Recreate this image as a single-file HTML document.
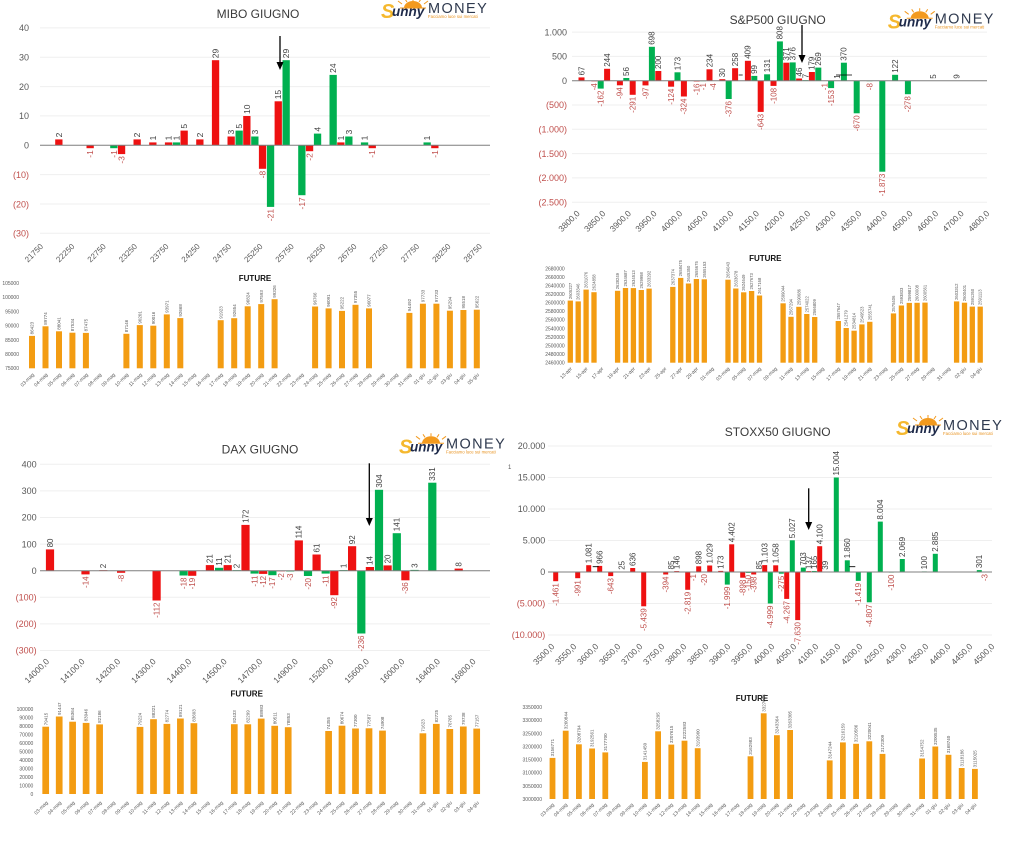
<!DOCTYPE html>
<html><head><meta charset="utf-8"><style>
html,body{margin:0;padding:0;background:#fff;}
svg{display:block;font-family:"Liberation Sans",Arial,sans-serif;}
.r{fill:#ee1111}.g{fill:#00b050}.o{fill:#f39c12}
.t{font-size:12px;fill:#3a3a3a;text-anchor:middle}
.ax{font-size:9px;fill:#595959;text-anchor:end}
.axn{font-size:9px;fill:#c0504d;text-anchor:end}
.xl{font-size:8.5px;fill:#595959;text-anchor:end}
.dp{font-size:8px;fill:#404040}
.dn{font-size:8px;fill:#c0504d;text-anchor:end}
.ft{font-size:8px;font-weight:bold;fill:#111;text-anchor:middle}
.fy{font-size:5px;fill:#595959;text-anchor:end}
.fx{font-size:5px;fill:#595959;text-anchor:end}
.fd{font-size:4.5px;fill:#595959}
.gl{stroke:#efefef;stroke-width:1}
.zl{stroke:#7f7f7f;stroke-width:1}
</style></head><body>
<svg width="1024" height="844" viewBox="0 0 1024 844" xmlns="http://www.w3.org/2000/svg">
<rect width="1024" height="844" fill="#fff"/>
<defs>
<g id="logo">
<path d="M22 -5 A9 7 0 0 1 40 -5 Z" fill="#f39a1e"/>
<path d="M18 -5H44M20 -9L16 -12M31 -12V-15M42 -9L46 -12M25 -11L23 -14M37 -11L39 -14" stroke="#f39a1e" stroke-width="1"/>
<text x="-1" y="5" font-size="20" font-weight="bold" font-style="italic" fill="#f5b82e">S</text>
<text x="10" y="3" font-size="13.5" font-weight="bold" font-style="italic" fill="#1e2a4a">unny</text>
<text x="46" y="0" font-size="14.5" fill="#2f3a4f" letter-spacing="1.4">MONEY</text>
<text x="46" y="5" font-size="4.3" fill="#e8921e">Facciamo luce sui mercati</text>
</g>
</defs>

<!-- ================= MIBO ================= -->
<use href="#logo" x="382" y="13"/>
<text class="t" x="258" y="18">MIBO GIUGNO</text>
<g class="gl"><line x1="40" x2="490" y1="27.9" y2="27.9"/><line x1="40" x2="490" y1="57.3" y2="57.3"/><line x1="40" x2="490" y1="86.6" y2="86.6"/><line x1="40" x2="490" y1="115.9" y2="115.9"/><line x1="40" x2="490" y1="174.6" y2="174.6"/><line x1="40" x2="490" y1="204" y2="204"/><line x1="40" x2="490" y1="233.3" y2="233.3"/></g>
<text class="ax" x="29" y="31">40</text><text class="ax" x="29" y="60.5">30</text><text class="ax" x="29" y="89.9">20</text><text class="ax" x="29" y="119.2">10</text><text class="ax" x="29" y="148.5">0</text>
<text class="axn" x="29" y="177.9">(10)</text><text class="axn" x="29" y="207.3">(20)</text><text class="axn" x="29" y="236.6">(30)</text>
<rect class="r" x="55.2" y="139.4" width="7.3" height="5.9"/>
<rect class="r" x="86.5" y="145.3" width="7.3" height="2.9"/>
<rect class="g" x="110.2" y="145.3" width="7.3" height="2.9"/>
<rect class="r" x="117.9" y="145.3" width="7.3" height="8.8"/>
<rect class="r" x="133.5" y="139.4" width="7.3" height="5.9"/>
<rect class="r" x="149.2" y="142.4" width="7.3" height="2.9"/>
<rect class="r" x="164.9" y="142.4" width="7.3" height="2.9"/>
<rect class="g" x="172.8" y="142.4" width="7.3" height="2.9"/>
<rect class="r" x="180.5" y="130.6" width="7.3" height="14.7"/>
<rect class="r" x="196.2" y="139.4" width="7.3" height="5.9"/>
<rect class="r" x="211.9" y="60.2" width="7.3" height="85.1"/>
<rect class="r" x="227.5" y="136.5" width="7.3" height="8.8"/>
<rect class="g" x="235.5" y="130.6" width="7.3" height="14.7"/>
<rect class="r" x="243.2" y="116" width="7.3" height="29.3"/>
<rect class="g" x="251.2" y="136.5" width="7.3" height="8.8"/>
<rect class="r" x="258.9" y="145.3" width="7.3" height="23.5"/>
<rect class="g" x="266.9" y="145.3" width="7.3" height="61.6"/>
<rect class="r" x="274.6" y="101.3" width="7.3" height="44"/>
<rect class="g" x="282.5" y="60.2" width="7.3" height="85.1"/>
<rect class="g" x="298.2" y="145.3" width="7.3" height="49.9"/>
<rect class="r" x="305.9" y="145.3" width="7.3" height="5.9"/>
<rect class="g" x="313.9" y="133.6" width="7.3" height="11.7"/>
<rect class="g" x="329.5" y="74.9" width="7.3" height="70.4"/>
<rect class="r" x="337.2" y="142.4" width="7.3" height="2.9"/>
<rect class="g" x="345.2" y="136.5" width="7.3" height="8.8"/>
<rect class="g" x="360.9" y="142.4" width="7.3" height="2.9"/>
<rect class="r" x="368.6" y="145.3" width="7.3" height="2.9"/>
<rect class="g" x="423.5" y="142.4" width="7.3" height="2.9"/>
<rect class="r" x="431.2" y="145.3" width="7.3" height="2.9"/>
<line class="zl" x1="40" x2="490" y1="145.3" y2="145.3"/>
<g class="dp" style="font-size:8.5px">
<text transform="translate(61.8 137.4) rotate(-90)">2</text>
<text transform="translate(140.1 137.4) rotate(-90)">2</text>
<text transform="translate(155.8 140.4) rotate(-90)">1</text>
<text transform="translate(171.5 140.4) rotate(-90)">1</text>
<text transform="translate(179.4 140.4) rotate(-90)">1</text>
<text transform="translate(187.1 128.6) rotate(-90)">5</text>
<text transform="translate(202.8 137.4) rotate(-90)">2</text>
<text transform="translate(218.5 58.2) rotate(-90)">29</text>
<text transform="translate(234.1 134.5) rotate(-90)">3</text>
<text transform="translate(242.1 128.6) rotate(-90)">5</text>
<text transform="translate(249.8 114) rotate(-90)">10</text>
<text transform="translate(257.8 134.5) rotate(-90)">3</text>
<text transform="translate(281.2 99.3) rotate(-90)">15</text>
<text transform="translate(289.1 58.2) rotate(-90)">29</text>
<text transform="translate(320.5 131.6) rotate(-90)">4</text>
<text transform="translate(336.1 72.9) rotate(-90)">24</text>
<text transform="translate(343.8 140.4) rotate(-90)">1</text>
<text transform="translate(351.8 134.5) rotate(-90)">3</text>
<text transform="translate(367.5 140.4) rotate(-90)">1</text>
<text transform="translate(430.1 140.4) rotate(-90)">1</text>
</g>
<g class="dn" style="font-size:8.5px">
<text transform="translate(93.1 150.2) rotate(-90)">-1</text>
<text transform="translate(116.8 150.2) rotate(-90)">-1</text>
<text transform="translate(124.5 156.1) rotate(-90)">-3</text>
<text transform="translate(265.5 170.8) rotate(-90)">-8</text>
<text transform="translate(273.5 208.9) rotate(-90)">-21</text>
<text transform="translate(304.8 197.2) rotate(-90)">-17</text>
<text transform="translate(312.5 153.2) rotate(-90)">-2</text>
<text transform="translate(375.2 150.2) rotate(-90)">-1</text>
<text transform="translate(437.8 150.2) rotate(-90)">-1</text>
</g>
<g class="xl" style="font-size:8px">
<text transform="translate(43.7 247) rotate(-45)">21750</text>
<text transform="translate(75 247) rotate(-45)">22250</text>
<text transform="translate(106.4 247) rotate(-45)">22750</text>
<text transform="translate(137.7 247) rotate(-45)">23250</text>
<text transform="translate(169.1 247) rotate(-45)">23750</text>
<text transform="translate(200.4 247) rotate(-45)">24250</text>
<text transform="translate(231.7 247) rotate(-45)">24750</text>
<text transform="translate(263.1 247) rotate(-45)">25250</text>
<text transform="translate(294.4 247) rotate(-45)">25750</text>
<text transform="translate(325.8 247) rotate(-45)">26250</text>
<text transform="translate(357.1 247) rotate(-45)">26750</text>
<text transform="translate(388.5 247) rotate(-45)">27250</text>
<text transform="translate(419.8 247) rotate(-45)">27750</text>
<text transform="translate(451.2 247) rotate(-45)">28250</text>
<text transform="translate(482.5 247) rotate(-45)">28750</text>
</g>
<path d="M280 36V64" stroke="#000" stroke-width="1.3"/><path d="M276.5 62L283.5 62L280 70Z" fill="#000"/>

<!-- MIBO FUTURE -->
<text class="ft" x="255" y="281">FUTURE</text>
<g class="fy"><text x="19" y="285">105000</text><text x="19" y="299.2">100000</text><text x="19" y="313.4">95000</text><text x="19" y="327.6">90000</text><text x="19" y="341.8">85000</text><text x="19" y="356">80000</text><text x="19" y="370.2">75000</text></g>
<g class="o">
<rect x="29" y="335.9" width="6" height="32.4"/><rect x="42.5" y="326.3" width="6" height="42"/><rect x="56" y="331.3" width="6" height="37"/><rect x="69.4" y="332.7" width="6" height="35.6"/><rect x="82.9" y="332.9" width="6" height="35.4"/>
<rect x="123.4" y="333.8" width="6" height="34.5"/><rect x="136.8" y="325.1" width="6" height="43.2"/><rect x="150.3" y="325.7" width="6" height="42.6"/><rect x="163.8" y="314.4" width="6" height="53.9"/><rect x="177.3" y="318.1" width="6" height="50.2"/>
<rect x="217.7" y="320.2" width="6" height="48.1"/><rect x="231.2" y="318.2" width="6" height="50.1"/><rect x="244.7" y="306.3" width="6" height="62"/><rect x="258.2" y="304.1" width="6" height="64.2"/><rect x="271.6" y="299.2" width="6" height="69.1"/>
<rect x="312.1" y="306.5" width="6" height="61.8"/><rect x="325.6" y="308.4" width="6" height="59.9"/><rect x="339" y="310.9" width="6" height="57.4"/><rect x="352.5" y="304.8" width="6" height="63.5"/><rect x="366" y="308.4" width="6" height="59.9"/>
<rect x="406.4" y="312.9" width="6" height="55.4"/><rect x="419.9" y="303.7" width="6" height="64.6"/><rect x="433.4" y="303.7" width="6" height="64.6"/><rect x="446.9" y="310.7" width="6" height="57.6"/><rect x="460.4" y="310" width="6" height="58.3"/><rect x="473.8" y="309.7" width="6" height="58.6"/>
</g>
<g class="fd">
<text transform="translate(33.6 334.4) rotate(-90)">86423</text><text transform="translate(47.1 324.8) rotate(-90)">89774</text><text transform="translate(60.6 329.8) rotate(-90)">88041</text><text transform="translate(74 331.2) rotate(-90)">87534</text><text transform="translate(87.5 331.4) rotate(-90)">87475</text>
<text transform="translate(128 332.3) rotate(-90)">87146</text><text transform="translate(141.4 323.6) rotate(-90)">90201</text><text transform="translate(154.9 324.2) rotate(-90)">90016</text><text transform="translate(168.4 312.9) rotate(-90)">93971</text><text transform="translate(181.9 316.6) rotate(-90)">92668</text>
<text transform="translate(222.3 318.7) rotate(-90)">91923</text><text transform="translate(235.8 316.7) rotate(-90)">92654</text><text transform="translate(249.3 304.8) rotate(-90)">96824</text><text transform="translate(262.8 302.6) rotate(-90)">97593</text><text transform="translate(276.2 297.7) rotate(-90)">99326</text>
<text transform="translate(316.7 305) rotate(-90)">96766</text><text transform="translate(330.2 306.9) rotate(-90)">96091</text><text transform="translate(343.6 309.4) rotate(-90)">95222</text><text transform="translate(357.1 303.3) rotate(-90)">97355</text><text transform="translate(370.6 306.9) rotate(-90)">96077</text>
<text transform="translate(411 311.4) rotate(-90)">94492</text><text transform="translate(424.5 302.2) rotate(-90)">97733</text><text transform="translate(438 302.2) rotate(-90)">97733</text><text transform="translate(451.5 309.2) rotate(-90)">95294</text><text transform="translate(465 308.5) rotate(-90)">95518</text><text transform="translate(478.4 308.2) rotate(-90)">95622</text>
</g>
<g class="fx">
<text transform="translate(34.5 375) rotate(-45)">03-mag</text><text transform="translate(48 375) rotate(-45)">04-mag</text><text transform="translate(61.5 375) rotate(-45)">05-mag</text><text transform="translate(74.9 375) rotate(-45)">06-mag</text><text transform="translate(88.4 375) rotate(-45)">07-mag</text><text transform="translate(101.9 375) rotate(-45)">08-mag</text><text transform="translate(115.4 375) rotate(-45)">09-mag</text><text transform="translate(128.9 375) rotate(-45)">10-mag</text><text transform="translate(142.3 375) rotate(-45)">11-mag</text><text transform="translate(155.8 375) rotate(-45)">12-mag</text><text transform="translate(169.3 375) rotate(-45)">13-mag</text><text transform="translate(182.8 375) rotate(-45)">14-mag</text><text transform="translate(196.3 375) rotate(-45)">15-mag</text><text transform="translate(209.7 375) rotate(-45)">16-mag</text><text transform="translate(223.2 375) rotate(-45)">17-mag</text><text transform="translate(236.7 375) rotate(-45)">18-mag</text><text transform="translate(250.2 375) rotate(-45)">19-mag</text><text transform="translate(263.7 375) rotate(-45)">20-mag</text><text transform="translate(277.1 375) rotate(-45)">21-mag</text><text transform="translate(290.6 375) rotate(-45)">22-mag</text><text transform="translate(304.1 375) rotate(-45)">23-mag</text><text transform="translate(317.6 375) rotate(-45)">24-mag</text><text transform="translate(331.1 375) rotate(-45)">25-mag</text><text transform="translate(344.5 375) rotate(-45)">26-mag</text><text transform="translate(358 375) rotate(-45)">27-mag</text><text transform="translate(371.5 375) rotate(-45)">28-mag</text><text transform="translate(385 375) rotate(-45)">29-mag</text><text transform="translate(398.5 375) rotate(-45)">30-mag</text><text transform="translate(411.9 375) rotate(-45)">31-mag</text><text transform="translate(425.4 375) rotate(-45)">01-giu</text><text transform="translate(438.9 375) rotate(-45)">02-giu</text><text transform="translate(452.4 375) rotate(-45)">03-giu</text><text transform="translate(465.9 375) rotate(-45)">04-giu</text><text transform="translate(479.3 375) rotate(-45)">05-giu</text>
</g>

<!-- ================= S&P500 ================= -->
<use href="#logo" x="888.7" y="23.3"/>
<text class="t" x="777.7" y="24">S&amp;P500 GIUGNO</text>
<g class="gl"><line x1="572" x2="987" y1="32.1" y2="32.1"/><line x1="572" x2="987" y1="56.4" y2="56.4"/><line x1="572" x2="987" y1="105" y2="105"/><line x1="572" x2="987" y1="129.3" y2="129.3"/><line x1="572" x2="987" y1="153.6" y2="153.6"/><line x1="572" x2="987" y1="177.9" y2="177.9"/><line x1="572" x2="987" y1="202.2" y2="202.2"/></g>
<text class="ax" x="567" y="35.3">1.000</text><text class="ax" x="567" y="59.6">500</text><text class="ax" x="567" y="83.9">0</text>
<text class="axn" x="567" y="108.2">(500)</text><text class="axn" x="567" y="132.5">(1.000)</text><text class="axn" x="567" y="156.8">(1.500)</text><text class="axn" x="567" y="181.1">(2.000)</text><text class="axn" x="567" y="205.4">(2.500)</text>
<rect class="r" x="578.5" y="77.4" width="6" height="3.3"/>
<rect class="r" x="591.3" y="80.7" width="6" height="0.6"/>
<rect class="g" x="597.7" y="80.7" width="6" height="7.9"/>
<rect class="r" x="604.1" y="68.8" width="6" height="11.9"/>
<rect class="r" x="616.9" y="80.7" width="6" height="4.6"/>
<rect class="g" x="623.3" y="78" width="6" height="2.7"/>
<rect class="r" x="629.7" y="80.7" width="6" height="14.1"/>
<rect class="r" x="642.5" y="80.7" width="6" height="4.7"/>
<rect class="g" x="648.9" y="46.8" width="6" height="33.9"/>
<rect class="r" x="655.3" y="71" width="6" height="9.7"/>
<rect class="r" x="668.1" y="80.7" width="6" height="6"/>
<rect class="g" x="674.5" y="72.3" width="6" height="8.4"/>
<rect class="r" x="680.9" y="80.7" width="6" height="15.8"/>
<rect class="r" x="693.7" y="80.7" width="6" height="0.8"/>
<rect class="g" x="700.1" y="80.7" width="6" height="0.5"/>
<rect class="r" x="706.5" y="69.3" width="6" height="11.4"/>
<rect class="r" x="719.3" y="79.2" width="6" height="1.5"/>
<rect class="g" x="725.7" y="80.7" width="6" height="18.3"/>
<rect class="r" x="732.1" y="68.2" width="6" height="12.5"/>
<rect class="r" x="744.9" y="60.8" width="6" height="19.9"/>
<rect class="g" x="751.3" y="75.9" width="6" height="4.8"/>
<rect class="r" x="757.7" y="80.7" width="6" height="31.2"/>
<rect class="g" x="764.1" y="74.3" width="6" height="6.4"/>
<rect class="r" x="770.5" y="80.7" width="6" height="5.2"/>
<rect class="g" x="776.9" y="41.4" width="6" height="39.3"/>
<rect class="r" x="783.3" y="62.7" width="6" height="18"/>
<rect class="g" x="789.7" y="62.4" width="6" height="18.3"/>
<rect class="r" x="796.1" y="78.5" width="6" height="2.2"/>
<rect class="g" x="802.5" y="80.2" width="6" height="0.5"/>
<rect class="r" x="808.9" y="72" width="6" height="8.7"/>
<rect class="g" x="815.3" y="67.6" width="6" height="13.1"/>
<rect class="g" x="828.1" y="80.7" width="6" height="7.4"/>
<rect class="g" x="840.9" y="62.7" width="6" height="18"/>
<rect class="g" x="853.7" y="80.7" width="6" height="32.6"/>
<rect class="g" x="866.5" y="80.7" width="6" height="0.5"/>
<rect class="g" x="879.3" y="80.7" width="6" height="91"/>
<rect class="g" x="892.1" y="74.8" width="6" height="5.9"/>
<rect class="g" x="904.9" y="80.7" width="6" height="13.5"/>
<line class="zl" x1="572" x2="987" y1="80.7" y2="80.7"/>
<path d="M738.7 75H742.7M836 75H852" stroke="#000" stroke-width="0.8"/>
<g class="dp">
<text transform="translate(584.3 75.4) rotate(-90)">67</text>
<text transform="translate(609.9 66.8) rotate(-90)">244</text>
<text transform="translate(629.1 76) rotate(-90)">56</text>
<text transform="translate(654.7 44.8) rotate(-90)">698</text>
<text transform="translate(661.1 69) rotate(-90)">200</text>
<text transform="translate(680.3 70.3) rotate(-90)">173</text>
<text transform="translate(712.3 67.3) rotate(-90)">234</text>
<text transform="translate(725.1 77.2) rotate(-90)">30</text>
<text transform="translate(737.9 66.2) rotate(-90)">258</text>
<text transform="translate(750.7 58.8) rotate(-90)">409</text>
<text transform="translate(757.1 73.9) rotate(-90)">99</text>
<text transform="translate(769.9 72.3) rotate(-90)">131</text>
<text transform="translate(782.7 39.4) rotate(-90)">808</text>
<text transform="translate(789.1 60.7) rotate(-90)">371</text>
<text transform="translate(795.5 60.4) rotate(-90)">376</text>
<text transform="translate(801.9 76.5) rotate(-90)">46</text>
<text transform="translate(808.3 78.3) rotate(-90)">7</text>
<text transform="translate(814.7 70) rotate(-90)">179</text>
<text transform="translate(821.1 65.6) rotate(-90)">269</text>
<text transform="translate(840.1 78.7) rotate(-90)">1</text>
<text transform="translate(846.7 60.7) rotate(-90)">370</text>
<text transform="translate(897.9 72.8) rotate(-90)">122</text>
<text transform="translate(936 78.7) rotate(-90)">5</text>
<text transform="translate(959.5 78.7) rotate(-90)">9</text>
</g>
<g class="dn">
<text transform="translate(597.1 83.3) rotate(-90)">-4</text>
<text transform="translate(603.5 90.6) rotate(-90)">-162</text>
<text transform="translate(622.7 87.3) rotate(-90)">-94</text>
<text transform="translate(635.5 96.8) rotate(-90)">-291</text>
<text transform="translate(648.3 87.4) rotate(-90)">-97</text>
<text transform="translate(673.9 88.7) rotate(-90)">-124</text>
<text transform="translate(686.7 98.5) rotate(-90)">-324</text>
<text transform="translate(699.5 83.5) rotate(-90)">-16</text>
<text transform="translate(705.9 83.1) rotate(-90)">-1</text>
<text transform="translate(716 83.3) rotate(-90)">-4</text>
<text transform="translate(731.5 101) rotate(-90)">-376</text>
<text transform="translate(763.5 113.9) rotate(-90)">-643</text>
<text transform="translate(776.3 87.9) rotate(-90)">-108</text>
<text transform="translate(827.5 83.1) rotate(-90)">-1</text>
<text transform="translate(833.9 90.1) rotate(-90)">-153</text>
<text transform="translate(859.5 115.3) rotate(-90)">-670</text>
<text transform="translate(872.3 83.1) rotate(-90)">-8</text>
<text transform="translate(885.1 173.7) rotate(-90)">-1.873</text>
<text transform="translate(910.7 96.2) rotate(-90)">-278</text>
</g>
<g class="xl">
<text transform="translate(580.3 214) rotate(-45)">3800,0</text>
<text transform="translate(606 214) rotate(-45)">3850,0</text>
<text transform="translate(631.6 214) rotate(-45)">3900,0</text>
<text transform="translate(657.2 214) rotate(-45)">3950,0</text>
<text transform="translate(682.8 214) rotate(-45)">4000,0</text>
<text transform="translate(708.4 214) rotate(-45)">4050,0</text>
<text transform="translate(734 214) rotate(-45)">4100,0</text>
<text transform="translate(759.6 214) rotate(-45)">4150,0</text>
<text transform="translate(785.2 214) rotate(-45)">4200,0</text>
<text transform="translate(810.8 214) rotate(-45)">4250,0</text>
<text transform="translate(836.4 214) rotate(-45)">4300,0</text>
<text transform="translate(862 214) rotate(-45)">4350,0</text>
<text transform="translate(887.6 214) rotate(-45)">4400,0</text>
<text transform="translate(913.2 214) rotate(-45)">4500,0</text>
<text transform="translate(938.8 214) rotate(-45)">4600,0</text>
<text transform="translate(964.4 214) rotate(-45)">4700,0</text>
<text transform="translate(990 214) rotate(-45)">4800,0</text>
</g>
<path d="M802 25V57" stroke="#000" stroke-width="1.3"/><path d="M798.5 55L805.5 55L802 63Z" fill="#000"/>

<!-- S&P FUTURE -->
<text class="ft" x="765.3" y="261">FUTURE</text>
<g class="fy"><text x="564.7" y="270.4">2680000</text><text x="564.7" y="279">2660000</text><text x="564.7" y="287.5">2640000</text><text x="564.7" y="296.1">2620000</text><text x="564.7" y="304.6">2600000</text><text x="564.7" y="313.2">2580000</text><text x="564.7" y="321.7">2560000</text><text x="564.7" y="330.3">2540000</text><text x="564.7" y="338.8">2520000</text><text x="564.7" y="347.4">2500000</text><text x="564.7" y="355.9">2480000</text><text x="564.7" y="364.5">2460000</text></g>
<g class="o">
<rect x="567.65" y="300.6" width="5.3" height="62.1"/><rect x="575.55" y="301.4" width="5.3" height="61.3"/><rect x="583.45" y="289.6" width="5.3" height="73.1"/><rect x="591.35" y="292.2" width="5.3" height="70.5"/>
<rect x="614.95" y="290.8" width="5.3" height="71.9"/><rect x="622.85" y="288" width="5.3" height="74.7"/><rect x="630.75" y="288.1" width="5.3" height="74.6"/><rect x="638.65" y="290" width="5.3" height="72.7"/><rect x="646.45" y="288.6" width="5.3" height="74.1"/>
<rect x="670.15" y="286.9" width="5.3" height="75.8"/><rect x="678.05" y="277.9" width="5.3" height="84.8"/><rect x="685.85" y="283.5" width="5.3" height="79.2"/><rect x="693.75" y="279" width="5.3" height="83.7"/><rect x="701.65" y="279.3" width="5.3" height="83.4"/>
<rect x="725.35" y="279.7" width="5.3" height="83"/><rect x="733.15" y="288.5" width="5.3" height="74.2"/><rect x="741.05" y="292.3" width="5.3" height="70.4"/><rect x="748.95" y="291" width="5.3" height="71.7"/><rect x="756.85" y="295.5" width="5.3" height="67.2"/>
<rect x="780.45" y="303.3" width="5.3" height="59.4"/><rect x="788.35" y="316.8" width="5.3" height="45.9"/><rect x="796.25" y="306.8" width="5.3" height="55.9"/><rect x="804.15" y="314" width="5.3" height="48.7"/><rect x="812.05" y="317" width="5.3" height="45.7"/>
<rect x="835.65" y="321" width="5.3" height="41.7"/><rect x="843.55" y="328" width="5.3" height="34.7"/><rect x="851.45" y="330.7" width="5.3" height="32"/><rect x="859.25" y="324.4" width="5.3" height="38.3"/><rect x="867.15" y="321.8" width="5.3" height="40.9"/>
<rect x="890.85" y="313.4" width="5.3" height="49.3"/><rect x="898.75" y="305.5" width="5.3" height="57.2"/><rect x="906.65" y="302.9" width="5.3" height="59.8"/><rect x="914.45" y="302.8" width="5.3" height="59.9"/><rect x="922.35" y="302.6" width="5.3" height="60.1"/>
<rect x="953.95" y="301.4" width="5.3" height="61.3"/><rect x="961.85" y="302.7" width="5.3" height="60"/><rect x="969.65" y="306.6" width="5.3" height="56.1"/><rect x="977.55" y="306.6" width="5.3" height="56.1"/>
</g>
<g class="fd" style="font-size:4.2px">
<text transform="translate(571.8 299.1) rotate(-90)">2605227</text><text transform="translate(579.7 299.9) rotate(-90)">2603346</text><text transform="translate(587.6 288.1) rotate(-90)">2631076</text><text transform="translate(595.5 290.7) rotate(-90)">2624858</text>
<text transform="translate(619.1 289.3) rotate(-90)">2628249</text><text transform="translate(627 286.5) rotate(-90)">2634687</text><text transform="translate(634.9 286.6) rotate(-90)">2634513</text><text transform="translate(642.8 288.5) rotate(-90)">2629998</text><text transform="translate(650.6 287.1) rotate(-90)">2633292</text>
<text transform="translate(674.3 285.4) rotate(-90)">2637374</text><text transform="translate(682.2 276.4) rotate(-90)">2658475</text><text transform="translate(690 282) rotate(-90)">2645350</text><text transform="translate(697.9 277.5) rotate(-90)">2655675</text><text transform="translate(705.8 277.8) rotate(-90)">2655153</text>
<text transform="translate(729.5 278.2) rotate(-90)">2654043</text><text transform="translate(737.3 287) rotate(-90)">2633678</text><text transform="translate(745.2 290.8) rotate(-90)">2624649</text><text transform="translate(753.1 289.5) rotate(-90)">2627673</text><text transform="translate(761 294) rotate(-90)">2617168</text>
<text transform="translate(784.6 301.8) rotate(-90)">2599044</text><text transform="translate(792.5 315.3) rotate(-90)">2567294</text><text transform="translate(800.4 305.3) rotate(-90)">2590686</text><text transform="translate(808.3 312.5) rotate(-90)">2574022</text><text transform="translate(816.2 315.5) rotate(-90)">2566809</text>
<text transform="translate(839.8 319.5) rotate(-90)">2557647</text><text transform="translate(847.7 326.5) rotate(-90)">2541279</text><text transform="translate(855.6 329.2) rotate(-90)">2534814</text><text transform="translate(863.4 322.9) rotate(-90)">2549523</text><text transform="translate(871.3 320.3) rotate(-90)">2555741</text>
<text transform="translate(895 311.9) rotate(-90)">2575406</text><text transform="translate(902.9 304) rotate(-90)">2593833</text><text transform="translate(910.8 301.4) rotate(-90)">2599817</text><text transform="translate(918.6 301.3) rotate(-90)">2600008</text><text transform="translate(926.5 301.1) rotate(-90)">2600561</text>
<text transform="translate(958.1 299.9) rotate(-90)">2603312</text><text transform="translate(966 301.2) rotate(-90)">2600401</text><text transform="translate(973.8 305.1) rotate(-90)">2591260</text><text transform="translate(981.7 305.1) rotate(-90)">2591113</text>
</g>
<g class="fx">
<text transform="translate(572.3 369) rotate(-45)">13-apr</text><text transform="translate(588.1 369) rotate(-45)">15-apr</text><text transform="translate(603.8 369) rotate(-45)">17-apr</text><text transform="translate(619.6 369) rotate(-45)">19-apr</text><text transform="translate(635.4 369) rotate(-45)">21-apr</text><text transform="translate(651.1 369) rotate(-45)">23-apr</text><text transform="translate(666.9 369) rotate(-45)">25-apr</text><text transform="translate(682.7 369) rotate(-45)">27-apr</text><text transform="translate(698.4 369) rotate(-45)">29-apr</text><text transform="translate(714.2 369) rotate(-45)">01-mag</text><text transform="translate(730 369) rotate(-45)">03-mag</text><text transform="translate(745.7 369) rotate(-45)">05-mag</text><text transform="translate(761.5 369) rotate(-45)">07-mag</text><text transform="translate(777.3 369) rotate(-45)">09-mag</text><text transform="translate(793 369) rotate(-45)">11-mag</text><text transform="translate(808.8 369) rotate(-45)">13-mag</text><text transform="translate(824.6 369) rotate(-45)">15-mag</text><text transform="translate(840.3 369) rotate(-45)">17-mag</text><text transform="translate(856.1 369) rotate(-45)">19-mag</text><text transform="translate(871.9 369) rotate(-45)">21-mag</text><text transform="translate(887.6 369) rotate(-45)">23-mag</text><text transform="translate(903.4 369) rotate(-45)">25-mag</text><text transform="translate(919.2 369) rotate(-45)">27-mag</text><text transform="translate(934.9 369) rotate(-45)">29-mag</text><text transform="translate(950.7 369) rotate(-45)">31-mag</text><text transform="translate(966.5 369) rotate(-45)">02-giu</text><text transform="translate(982.2 369) rotate(-45)">04-giu</text>
</g>

<!-- ================= DAX ================= -->
<use href="#logo" x="400" y="448.3"/>
<text class="t" x="260" y="453.5">DAX GIUGNO</text>
<text x="508" y="469" font-size="6" fill="#595959">1</text>
<g class="gl"><line x1="40" x2="490" y1="464.3" y2="464.3"/><line x1="40" x2="490" y1="490.9" y2="490.9"/><line x1="40" x2="490" y1="517.5" y2="517.5"/><line x1="40" x2="490" y1="544.1" y2="544.1"/><line x1="40" x2="490" y1="597.3" y2="597.3"/><line x1="40" x2="490" y1="623.9" y2="623.9"/><line x1="40" x2="490" y1="650.5" y2="650.5"/></g>
<text class="ax" x="36.7" y="467.5">400</text><text class="ax" x="36.7" y="494.1">300</text><text class="ax" x="36.7" y="520.7">200</text><text class="ax" x="36.7" y="547.3">100</text><text class="ax" x="36.7" y="573.9">0</text>
<text class="axn" x="36.7" y="600.5">(100)</text><text class="axn" x="36.7" y="627.1">(200)</text><text class="axn" x="36.7" y="653.7">(300)</text>
<rect class="r" x="45.9" y="549.4" width="8.2" height="21.3"/>
<rect class="r" x="81.4" y="570.7" width="8.2" height="3.7"/>
<rect class="r" x="99.2" y="570.2" width="8.2" height="0.5"/>
<rect class="r" x="117" y="570.7" width="8.2" height="2.1"/>
<rect class="r" x="152.5" y="570.7" width="8.2" height="29.8"/>
<rect class="g" x="179.5" y="570.7" width="8.2" height="4.8"/>
<rect class="r" x="188.1" y="570.7" width="8.2" height="5.1"/>
<rect class="r" x="205.8" y="565.1" width="8.2" height="5.6"/>
<rect class="g" x="215" y="567.8" width="8.2" height="2.9"/>
<rect class="r" x="223.6" y="565.1" width="8.2" height="5.6"/>
<rect class="g" x="232.8" y="570.2" width="8.2" height="0.5"/>
<rect class="r" x="241.4" y="524.9" width="8.2" height="45.8"/>
<rect class="g" x="250.5" y="570.7" width="8.2" height="2.9"/>
<rect class="r" x="259.1" y="570.7" width="8.2" height="3.2"/>
<rect class="g" x="268.3" y="570.7" width="8.2" height="4.5"/>
<rect class="r" x="276.9" y="570.7" width="8.2" height="0.6"/>
<rect class="g" x="286.1" y="570.7" width="8.2" height="0.8"/>
<rect class="r" x="294.7" y="540.4" width="8.2" height="30.3"/>
<rect class="g" x="303.9" y="570.7" width="8.2" height="5.3"/>
<rect class="r" x="312.5" y="554.5" width="8.2" height="16.2"/>
<rect class="g" x="321.6" y="570.7" width="8.2" height="2.9"/>
<rect class="r" x="330.2" y="570.7" width="8.2" height="24.5"/>
<rect class="g" x="339.4" y="570.1" width="8.2" height="0.6"/>
<rect class="r" x="348" y="546.2" width="8.2" height="24.5"/>
<rect class="g" x="357.2" y="570.7" width="8.2" height="62.8"/>
<rect class="r" x="365.8" y="567" width="8.2" height="3.7"/>
<rect class="g" x="374.9" y="489.8" width="8.2" height="80.9"/>
<rect class="r" x="383.5" y="565.4" width="8.2" height="5.3"/>
<rect class="g" x="392.7" y="533.2" width="8.2" height="37.5"/>
<rect class="r" x="401.3" y="570.7" width="8.2" height="9.6"/>
<rect class="g" x="410.5" y="569.9" width="8.2" height="0.8"/>
<rect class="g" x="428.2" y="482.7" width="8.2" height="88"/>
<rect class="r" x="454.6" y="568.6" width="8.2" height="2.1"/>
<line class="zl" x1="40" x2="490" y1="570.7" y2="570.7"/>
<g class="dp">
<text transform="translate(52.8 547.4) rotate(-90)">80</text>
<text transform="translate(106.1 568.2) rotate(-90)">2</text>
<text transform="translate(212.7 563.1) rotate(-90)">21</text>
<text transform="translate(221.9 565.8) rotate(-90)">11</text>
<text transform="translate(230.5 563.1) rotate(-90)">21</text>
<text transform="translate(239.7 568.2) rotate(-90)">2</text>
<text transform="translate(248.3 522.9) rotate(-90)">172</text>
<text transform="translate(301.6 538.4) rotate(-90)">114</text>
<text transform="translate(319.4 552.5) rotate(-90)">61</text>
<text transform="translate(346.3 568.1) rotate(-90)">1</text>
<text transform="translate(354.9 544.2) rotate(-90)">92</text>
<text transform="translate(372.7 565) rotate(-90)">14</text>
<text transform="translate(381.8 487.8) rotate(-90)">304</text>
<text transform="translate(390.4 563.4) rotate(-90)">20</text>
<text transform="translate(399.6 531.2) rotate(-90)">141</text>
<text transform="translate(417.4 567.9) rotate(-90)">3</text>
<text transform="translate(435.1 480.7) rotate(-90)">331</text>
<text transform="translate(461.5 566.6) rotate(-90)">8</text>
</g>
<g class="dn">
<text transform="translate(88.3 576.4) rotate(-90)">-14</text>
<text transform="translate(123.9 574.8) rotate(-90)">-8</text>
<text transform="translate(159.4 602.5) rotate(-90)">-112</text>
<text transform="translate(186.4 577.5) rotate(-90)">-18</text>
<text transform="translate(195 577.8) rotate(-90)">-19</text>
<text transform="translate(257.4 575.6) rotate(-90)">-11</text>
<text transform="translate(266 575.9) rotate(-90)">-12</text>
<text transform="translate(275.2 577.2) rotate(-90)">-17</text>
<text transform="translate(283.8 573.2) rotate(-90)">-2</text>
<text transform="translate(293 573.5) rotate(-90)">-3</text>
<text transform="translate(310.8 578) rotate(-90)">-20</text>
<text transform="translate(328.5 575.6) rotate(-90)">-11</text>
<text transform="translate(337.1 597.2) rotate(-90)">-92</text>
<text transform="translate(364.1 635.5) rotate(-90)">-236</text>
<text transform="translate(408.2 582.3) rotate(-90)">-36</text>
</g>
<g class="xl">
<text transform="translate(49.7 662) rotate(-45)">14000,0</text>
<text transform="translate(85.2 662) rotate(-45)">14100,0</text>
<text transform="translate(120.8 662) rotate(-45)">14200,0</text>
<text transform="translate(156.3 662) rotate(-45)">14300,0</text>
<text transform="translate(191.9 662) rotate(-45)">14400,0</text>
<text transform="translate(227.4 662) rotate(-45)">14500,0</text>
<text transform="translate(262.9 662) rotate(-45)">14700,0</text>
<text transform="translate(298.5 662) rotate(-45)">14900,0</text>
<text transform="translate(334 662) rotate(-45)">15200,0</text>
<text transform="translate(369.6 662) rotate(-45)">15600,0</text>
<text transform="translate(405.1 662) rotate(-45)">16000,0</text>
<text transform="translate(440.6 662) rotate(-45)">16400,0</text>
<text transform="translate(476.2 662) rotate(-45)">16800,0</text>
</g>
<path d="M369.3 463.3V520" stroke="#000" stroke-width="1.3"/><path d="M365.8 518L372.8 518L369.3 526Z" fill="#000"/>

<!-- DAX FUTURE -->
<text class="ft" x="246.7" y="696.5">FUTURE</text>
<g class="fy"><text x="33.3" y="711.1">100000</text><text x="33.3" y="719.6">90000</text><text x="33.3" y="728">80000</text><text x="33.3" y="736.5">70000</text><text x="33.3" y="745">60000</text><text x="33.3" y="753.5">50000</text><text x="33.3" y="761.9">40000</text><text x="33.3" y="770.4">30000</text><text x="33.3" y="778.9">20000</text><text x="33.3" y="787.3">10000</text><text x="33.3" y="795.8">0</text></g>
<g class="o">
<rect x="42.35" y="726.7" width="6.7" height="67.3"/><rect x="55.85" y="716.5" width="6.7" height="77.5"/><rect x="69.25" y="721.7" width="6.7" height="72.3"/><rect x="82.75" y="722.9" width="6.7" height="71.1"/><rect x="96.25" y="724.4" width="6.7" height="69.6"/>
<rect x="136.65" y="726.9" width="6.7" height="67.1"/><rect x="150.15" y="719.2" width="6.7" height="74.8"/><rect x="163.55" y="723.9" width="6.7" height="70.1"/><rect x="177.05" y="718.5" width="6.7" height="75.5"/><rect x="190.55" y="723.2" width="6.7" height="70.8"/>
<rect x="230.95" y="724.2" width="6.7" height="69.8"/><rect x="244.45" y="724.3" width="6.7" height="69.7"/><rect x="257.85" y="718.6" width="6.7" height="75.4"/><rect x="271.35" y="725.8" width="6.7" height="68.2"/><rect x="284.85" y="727.2" width="6.7" height="66.8"/>
<rect x="325.25" y="731" width="6.7" height="63"/><rect x="338.65" y="725.7" width="6.7" height="68.3"/><rect x="352.15" y="728.5" width="6.7" height="65.5"/><rect x="365.65" y="728.3" width="6.7" height="65.7"/><rect x="379.15" y="730.6" width="6.7" height="63.4"/>
<rect x="419.55" y="733.3" width="6.7" height="60.7"/><rect x="432.95" y="723.9" width="6.7" height="70.1"/><rect x="446.45" y="729" width="6.7" height="65"/><rect x="459.95" y="726.5" width="6.7" height="67.5"/><rect x="473.35" y="728.6" width="6.7" height="65.4"/>
</g>
<g class="fd">
<text transform="translate(47.3 725.2) rotate(-90)">79415</text><text transform="translate(60.8 715) rotate(-90)">91447</text><text transform="translate(74.2 720.2) rotate(-90)">85364</text><text transform="translate(87.7 721.4) rotate(-90)">83946</text><text transform="translate(101.2 722.9) rotate(-90)">82186</text>
<text transform="translate(141.6 725.4) rotate(-90)">79224</text><text transform="translate(155.1 717.7) rotate(-90)">88321</text><text transform="translate(168.5 722.4) rotate(-90)">82774</text><text transform="translate(182 717) rotate(-90)">89121</text><text transform="translate(195.5 721.7) rotate(-90)">83603</text>
<text transform="translate(235.9 722.7) rotate(-90)">82433</text><text transform="translate(249.4 722.8) rotate(-90)">82299</text><text transform="translate(262.8 717.1) rotate(-90)">88983</text><text transform="translate(276.3 724.3) rotate(-90)">80511</text><text transform="translate(289.8 725.7) rotate(-90)">78853</text>
<text transform="translate(330.2 729.5) rotate(-90)">74355</text><text transform="translate(343.6 724.2) rotate(-90)">80674</text><text transform="translate(357.1 727) rotate(-90)">77300</text><text transform="translate(370.6 726.8) rotate(-90)">77587</text><text transform="translate(384.1 729.1) rotate(-90)">74908</text>
<text transform="translate(424.5 731.8) rotate(-90)">71623</text><text transform="translate(437.9 722.4) rotate(-90)">82725</text><text transform="translate(451.4 727.5) rotate(-90)">76765</text><text transform="translate(464.9 725) rotate(-90)">79738</text><text transform="translate(478.3 727.1) rotate(-90)">77157</text>
</g>
<g class="fx">
<text transform="translate(48.2 803) rotate(-45)">03-mag</text><text transform="translate(61.7 803) rotate(-45)">04-mag</text><text transform="translate(75.1 803) rotate(-45)">05-mag</text><text transform="translate(88.6 803) rotate(-45)">06-mag</text><text transform="translate(102.1 803) rotate(-45)">07-mag</text><text transform="translate(115.6 803) rotate(-45)">08-mag</text><text transform="translate(129 803) rotate(-45)">09-mag</text><text transform="translate(142.5 803) rotate(-45)">10-mag</text><text transform="translate(156 803) rotate(-45)">11-mag</text><text transform="translate(169.4 803) rotate(-45)">12-mag</text><text transform="translate(182.9 803) rotate(-45)">13-mag</text><text transform="translate(196.4 803) rotate(-45)">14-mag</text><text transform="translate(209.8 803) rotate(-45)">15-mag</text><text transform="translate(223.3 803) rotate(-45)">16-mag</text><text transform="translate(236.8 803) rotate(-45)">17-mag</text><text transform="translate(250.3 803) rotate(-45)">18-mag</text><text transform="translate(263.7 803) rotate(-45)">19-mag</text><text transform="translate(277.2 803) rotate(-45)">20-mag</text><text transform="translate(290.7 803) rotate(-45)">21-mag</text><text transform="translate(304.1 803) rotate(-45)">22-mag</text><text transform="translate(317.6 803) rotate(-45)">23-mag</text><text transform="translate(331.1 803) rotate(-45)">24-mag</text><text transform="translate(344.5 803) rotate(-45)">25-mag</text><text transform="translate(358 803) rotate(-45)">26-mag</text><text transform="translate(371.5 803) rotate(-45)">27-mag</text><text transform="translate(385 803) rotate(-45)">28-mag</text><text transform="translate(398.4 803) rotate(-45)">29-mag</text><text transform="translate(411.9 803) rotate(-45)">30-mag</text><text transform="translate(425.4 803) rotate(-45)">31-mag</text><text transform="translate(438.8 803) rotate(-45)">01-giu</text><text transform="translate(452.3 803) rotate(-45)">02-giu</text><text transform="translate(465.8 803) rotate(-45)">03-giu</text><text transform="translate(479.2 803) rotate(-45)">04-giu</text>
</g>

<!-- ================= STOXX50 ================= -->
<use href="#logo" x="897" y="430"/>
<text class="t" x="777.7" y="436">STOXX50 GIUGNO</text>
<g class="gl"><line x1="548" x2="992" y1="446" y2="446"/><line x1="548" x2="992" y1="477.5" y2="477.5"/><line x1="548" x2="992" y1="509" y2="509"/><line x1="548" x2="992" y1="540.5" y2="540.5"/><line x1="548" x2="992" y1="603.5" y2="603.5"/><line x1="548" x2="992" y1="635" y2="635"/></g>
<text class="ax" x="545.3" y="449.2">20.000</text><text class="ax" x="545.3" y="480.7">15.000</text><text class="ax" x="545.3" y="512.2">10.000</text><text class="ax" x="545.3" y="543.7">5.000</text><text class="ax" x="545.3" y="575.2">0</text>
<text class="axn" x="545.3" y="606.7">(5.000)</text><text class="axn" x="545.3" y="638.2">(10.000)</text>
<rect class="r" x="553.2" y="572" width="5" height="9.2"/>
<rect class="r" x="575.2" y="572" width="5" height="6.2"/>
<rect class="r" x="586.2" y="565.2" width="5" height="6.8"/>
<rect class="r" x="597.2" y="565.9" width="5" height="6.1"/>
<rect class="r" x="608.2" y="572" width="5" height="4.1"/>
<rect class="r" x="619.2" y="571.7" width="5" height="0.3"/>
<rect class="r" x="630.2" y="568" width="5" height="4"/>
<rect class="r" x="641.2" y="572" width="5" height="34.3"/>
<rect class="r" x="663.2" y="572" width="5" height="2.5"/>
<rect class="g" x="668.8" y="571.5" width="5" height="0.5"/>
<rect class="r" x="674.2" y="571.1" width="5" height="0.9"/>
<rect class="r" x="685.2" y="572" width="5" height="17.8"/>
<rect class="r" x="696.2" y="566.3" width="5" height="5.7"/>
<rect class="r" x="707.2" y="565.5" width="5" height="6.5"/>
<rect class="r" x="718.2" y="570.9" width="5" height="1.1"/>
<rect class="g" x="724.8" y="572" width="5" height="12.6"/>
<rect class="r" x="729.2" y="544.3" width="5" height="27.7"/>
<rect class="r" x="740.2" y="572" width="5" height="5.7"/>
<rect class="g" x="745.8" y="572" width="5" height="0.9"/>
<rect class="r" x="751.2" y="572" width="5" height="2.5"/>
<rect class="g" x="756.8" y="571.5" width="5" height="0.5"/>
<rect class="r" x="762.2" y="565.1" width="5" height="6.9"/>
<rect class="g" x="767.8" y="572" width="5" height="31.5"/>
<rect class="r" x="773.2" y="565.3" width="5" height="6.7"/>
<rect class="g" x="778.8" y="572" width="5" height="1.7"/>
<rect class="r" x="784.2" y="572" width="5" height="26.9"/>
<rect class="g" x="789.8" y="540.3" width="5" height="31.7"/>
<rect class="r" x="795.2" y="572" width="5" height="48.1"/>
<rect class="g" x="800.8" y="567.6" width="5" height="4.4"/>
<rect class="r" x="806.2" y="571.1" width="5" height="0.9"/>
<rect class="g" x="811.8" y="571" width="5" height="1"/>
<rect class="r" x="817.2" y="546.2" width="5" height="25.8"/>
<rect class="g" x="822.8" y="571.7" width="5" height="0.3"/>
<rect class="g" x="833.8" y="477.5" width="5" height="94.5"/>
<rect class="g" x="844.8" y="560.3" width="5" height="11.7"/>
<rect class="g" x="855.8" y="572" width="5" height="8.9"/>
<rect class="g" x="866.8" y="572" width="5" height="30.3"/>
<rect class="g" x="877.8" y="521.6" width="5" height="50.4"/>
<rect class="g" x="888.8" y="572" width="5" height="0.6"/>
<rect class="g" x="899.8" y="559" width="5" height="13"/>
<rect class="g" x="921.8" y="571.4" width="5" height="0.6"/>
<rect class="g" x="932.8" y="553.8" width="5" height="18.2"/>
<rect class="g" x="976.8" y="570.1" width="5" height="1.9"/>
<line class="zl" x1="548" x2="992" y1="572" y2="572"/>
<path d="M592.7 566.7H598.7M849.3 566.7H855.3" stroke="#000" stroke-width="0.8"/>
<g class="dp">
<text transform="translate(591.5 563.2) rotate(-90)">1.081</text>
<text transform="translate(602.5 563.9) rotate(-90)">966</text>
<text transform="translate(624.5 569.8) rotate(-90)">25</text>
<text transform="translate(635.5 566) rotate(-90)">636</text>
<text transform="translate(674.1 569.5) rotate(-90)">85</text>
<text transform="translate(679.5 569.1) rotate(-90)">146</text>
<text transform="translate(701.5 564.3) rotate(-90)">898</text>
<text transform="translate(712.5 563.5) rotate(-90)">1.029</text>
<text transform="translate(723.5 568.9) rotate(-90)">173</text>
<text transform="translate(734.5 542.3) rotate(-90)">4.402</text>
<text transform="translate(762.1 569.5) rotate(-90)">85</text>
<text transform="translate(767.5 563.1) rotate(-90)">1.103</text>
<text transform="translate(778.5 563.3) rotate(-90)">1.058</text>
<text transform="translate(795.1 538.3) rotate(-90)">5.027</text>
<text transform="translate(806.1 565.6) rotate(-90)">703</text>
<text transform="translate(811.5 569.1) rotate(-90)">137</text>
<text transform="translate(817.1 569) rotate(-90)">165</text>
<text transform="translate(822.5 544.2) rotate(-90)">4.100</text>
<text transform="translate(828.1 569.7) rotate(-90)">39</text>
<text transform="translate(839.1 475.5) rotate(-90)">15.004</text>
<text transform="translate(850.1 558.3) rotate(-90)">1.860</text>
<text transform="translate(883.1 519.6) rotate(-90)">8.004</text>
<text transform="translate(905.1 557) rotate(-90)">2.069</text>
<text transform="translate(927.1 569.4) rotate(-90)">100</text>
<text transform="translate(938.1 551.8) rotate(-90)">2.885</text>
<text transform="translate(982.1 568.1) rotate(-90)">301</text>
</g>
<g class="dn">
<text transform="translate(558.5 583.2) rotate(-90)">-1.461</text>
<text transform="translate(580.5 580.2) rotate(-90)">-991</text>
<text transform="translate(613.5 578.1) rotate(-90)">-643</text>
<text transform="translate(646.5 608.3) rotate(-90)">-5.439</text>
<text transform="translate(668.5 576.5) rotate(-90)">-394</text>
<text transform="translate(690.5 591.8) rotate(-90)">-2.819</text>
<text transform="translate(696.1 574) rotate(-90)">-1</text>
<text transform="translate(707.1 574.1) rotate(-90)">-20</text>
<text transform="translate(730.1 586.6) rotate(-90)">-1.999</text>
<text transform="translate(745.5 579.7) rotate(-90)">-898</text>
<text transform="translate(751.1 574.9) rotate(-90)">-150</text>
<text transform="translate(756.5 576.5) rotate(-90)">-398</text>
<text transform="translate(773.1 605.5) rotate(-90)">-4.999</text>
<text transform="translate(784.1 575.7) rotate(-90)">-275</text>
<text transform="translate(789.5 600.9) rotate(-90)">-4.267</text>
<text transform="translate(800.5 622.1) rotate(-90)">-7.630</text>
<text transform="translate(861.1 582.9) rotate(-90)">-1.419</text>
<text transform="translate(872.1 604.3) rotate(-90)">-4.807</text>
<text transform="translate(894.1 574.6) rotate(-90)">-100</text>
<text transform="translate(987.5 574) rotate(-90)">-3</text>
</g>
<g class="xl">
<text transform="translate(555 647) rotate(-45)">3500,0</text>
<text transform="translate(577 647) rotate(-45)">3550,0</text>
<text transform="translate(599 647) rotate(-45)">3600,0</text>
<text transform="translate(621 647) rotate(-45)">3650,0</text>
<text transform="translate(643 647) rotate(-45)">3700,0</text>
<text transform="translate(665 647) rotate(-45)">3750,0</text>
<text transform="translate(687 647) rotate(-45)">3800,0</text>
<text transform="translate(709 647) rotate(-45)">3850,0</text>
<text transform="translate(731 647) rotate(-45)">3900,0</text>
<text transform="translate(753 647) rotate(-45)">3950,0</text>
<text transform="translate(775 647) rotate(-45)">4000,0</text>
<text transform="translate(797 647) rotate(-45)">4050,0</text>
<text transform="translate(819 647) rotate(-45)">4100,0</text>
<text transform="translate(841 647) rotate(-45)">4150,0</text>
<text transform="translate(863 647) rotate(-45)">4200,0</text>
<text transform="translate(885 647) rotate(-45)">4250,0</text>
<text transform="translate(907 647) rotate(-45)">4300,0</text>
<text transform="translate(929 647) rotate(-45)">4350,0</text>
<text transform="translate(951 647) rotate(-45)">4400,0</text>
<text transform="translate(973 647) rotate(-45)">4450,0</text>
<text transform="translate(995 647) rotate(-45)">4500,0</text>
</g>
<path d="M808.7 488.3V524" stroke="#000" stroke-width="1.3"/><path d="M805.2 522L812.2 522L808.7 530Z" fill="#000"/>

<!-- STOXX FUTURE -->
<text class="ft" x="752" y="701">FUTURE</text>
<g class="fy"><text x="542" y="709.1">3350000</text><text x="542" y="722.2">3300000</text><text x="542" y="735.3">3250000</text><text x="542" y="748.4">3200000</text><text x="542" y="761.6">3150000</text><text x="542" y="774.7">3100000</text><text x="542" y="787.8">3050000</text><text x="542" y="800.8">3000000</text></g>
<g class="o">
<rect x="549.6" y="757.9" width="5.8" height="41.1"/><rect x="562.8" y="730.7" width="5.8" height="68.3"/><rect x="576" y="744.3" width="5.8" height="54.7"/><rect x="589.2" y="748.5" width="5.8" height="50.5"/><rect x="602.4" y="752.4" width="5.8" height="46.6"/>
<rect x="642" y="761.9" width="5.8" height="37.1"/><rect x="655.2" y="731.3" width="5.8" height="67.7"/><rect x="668.4" y="744.6" width="5.8" height="54.4"/><rect x="681.6" y="740.7" width="5.8" height="58.3"/><rect x="694.8" y="748.2" width="5.8" height="50.8"/>
<rect x="747.6" y="756.3" width="5.8" height="42.7"/><rect x="760.8" y="713.3" width="5.8" height="85.7"/><rect x="774" y="735.2" width="5.8" height="63.8"/><rect x="787.2" y="730" width="5.8" height="69"/>
<rect x="826.8" y="760.4" width="5.8" height="38.6"/><rect x="840" y="742.4" width="5.8" height="56.6"/><rect x="853.2" y="743.8" width="5.8" height="55.2"/><rect x="866.4" y="741.3" width="5.8" height="57.7"/><rect x="879.6" y="753.9" width="5.8" height="45.1"/>
<rect x="919.2" y="758.5" width="5.8" height="40.5"/><rect x="932.4" y="746.5" width="5.8" height="52.5"/><rect x="945.6" y="754.8" width="5.8" height="44.2"/><rect x="958.8" y="768" width="5.8" height="31"/><rect x="972" y="768.9" width="5.8" height="30.1"/>
</g>
<g class="fd">
<text transform="translate(554.1 756.4) rotate(-90)">3156771</text><text transform="translate(567.3 729.2) rotate(-90)">3260844</text><text transform="translate(580.5 742.8) rotate(-90)">3208794</text><text transform="translate(593.7 747) rotate(-90)">3192561</text><text transform="translate(606.9 750.9) rotate(-90)">3177700</text>
<text transform="translate(646.5 760.4) rotate(-90)">3141450</text><text transform="translate(659.7 729.8) rotate(-90)">3258295</text><text transform="translate(672.9 743.1) rotate(-90)">3207615</text><text transform="translate(686.1 739.2) rotate(-90)">3222583</text><text transform="translate(699.3 746.7) rotate(-90)">3193900</text>
<text transform="translate(752.1 754.8) rotate(-90)">3162983</text><text transform="translate(765.3 711.8) rotate(-90)">3327054</text><text transform="translate(778.5 733.7) rotate(-90)">3243364</text><text transform="translate(791.7 728.5) rotate(-90)">3263305</text>
<text transform="translate(831.3 758.9) rotate(-90)">3147244</text><text transform="translate(844.5 740.9) rotate(-90)">3216159</text><text transform="translate(857.7 742.3) rotate(-90)">3210586</text><text transform="translate(870.9 739.8) rotate(-90)">3220041</text><text transform="translate(884.1 752.4) rotate(-90)">3172309</text>
<text transform="translate(923.7 757) rotate(-90)">3154752</text><text transform="translate(936.9 745) rotate(-90)">3200535</text><text transform="translate(950.1 753.3) rotate(-90)">3168740</text><text transform="translate(963.3 766.5) rotate(-90)">3118186</text><text transform="translate(976.5 767.4) rotate(-90)">3115025</text>
</g>
<g class="fx">
<text transform="translate(554.5 805) rotate(-45)">03-mag</text><text transform="translate(567.7 805) rotate(-45)">04-mag</text><text transform="translate(580.9 805) rotate(-45)">05-mag</text><text transform="translate(594.1 805) rotate(-45)">06-mag</text><text transform="translate(607.3 805) rotate(-45)">07-mag</text><text transform="translate(620.5 805) rotate(-45)">08-mag</text><text transform="translate(633.7 805) rotate(-45)">09-mag</text><text transform="translate(646.9 805) rotate(-45)">10-mag</text><text transform="translate(660.1 805) rotate(-45)">11-mag</text><text transform="translate(673.3 805) rotate(-45)">12-mag</text><text transform="translate(686.5 805) rotate(-45)">13-mag</text><text transform="translate(699.7 805) rotate(-45)">14-mag</text><text transform="translate(712.9 805) rotate(-45)">15-mag</text><text transform="translate(726.1 805) rotate(-45)">16-mag</text><text transform="translate(739.3 805) rotate(-45)">17-mag</text><text transform="translate(752.5 805) rotate(-45)">18-mag</text><text transform="translate(765.7 805) rotate(-45)">19-mag</text><text transform="translate(778.9 805) rotate(-45)">20-mag</text><text transform="translate(792.1 805) rotate(-45)">21-mag</text><text transform="translate(805.3 805) rotate(-45)">22-mag</text><text transform="translate(818.5 805) rotate(-45)">23-mag</text><text transform="translate(831.7 805) rotate(-45)">24-mag</text><text transform="translate(844.9 805) rotate(-45)">25-mag</text><text transform="translate(858.1 805) rotate(-45)">26-mag</text><text transform="translate(871.3 805) rotate(-45)">27-mag</text><text transform="translate(884.5 805) rotate(-45)">28-mag</text><text transform="translate(897.7 805) rotate(-45)">29-mag</text><text transform="translate(910.9 805) rotate(-45)">30-mag</text><text transform="translate(924.1 805) rotate(-45)">31-mag</text><text transform="translate(937.3 805) rotate(-45)">01-giu</text><text transform="translate(950.5 805) rotate(-45)">02-giu</text><text transform="translate(963.7 805) rotate(-45)">03-giu</text><text transform="translate(976.9 805) rotate(-45)">04-giu</text>
</g>
</svg>
</body></html>
